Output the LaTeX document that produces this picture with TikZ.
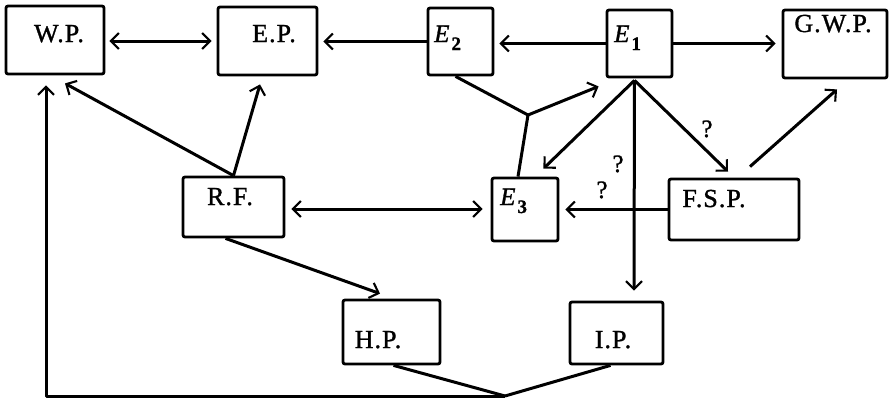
\documentclass[tikz,border=0pt]{standalone}
\usepackage{fontspec}
\setmainfont{Liberation Serif}
\newfontfamily\labelfont[FakeBold=1.2,LetterSpace=4]{Liberation Serif}
\usetikzlibrary{arrows.meta,calc}

\tikzset{
  box/.style={draw, line width=2.8pt, rounded corners=2pt, inner sep=0pt},
  lbl/.style={inner sep=0pt, font=\labelfont\fontsize{26}{26}\selectfont},
  qmark/.style={inner sep=0pt, font=\labelfont\fontsize{25}{25}\selectfont, anchor=base},
  conn/.style={line width=3pt, line join=round},
  >={Straight Barb[length=8pt,width=16pt,line width=2.1pt]}
}
% italic E with a lowered subscript digit
\newcommand{\Esub}[1]{{\fontsize{25}{25}\selectfont\itshape E}\kern2pt\raisebox{-8pt}{\fontsize{19}{19}\selectfont\bfseries #1}}

\begin{document}
\begin{tikzpicture}[x=1pt,y=-1pt]
\useasboundingbox (0,0) rectangle (889,399);

% boxes
\node[box, minimum width=98pt,  minimum height=68pt] (wp)  at (55,40)      {};
\node[box, minimum width=99pt,  minimum height=68pt] (ep)  at (267.5,41)   {};
\node[box, minimum width=65pt,  minimum height=67pt] (e2)  at (460.5,41.5) {};
\node[box, minimum width=65pt,  minimum height=67pt] (e1)  at (639.5,43.5) {};
\node[box, minimum width=104pt, minimum height=68pt] (gwp) at (835,44)     {};
\node[box, minimum width=101pt, minimum height=60pt] (rf)  at (233.5,207)  {};
\node[box, minimum width=66pt,  minimum height=63pt] (e3)  at (525,209.5)  {};
\node[box, minimum width=130pt, minimum height=61pt] (fsp) at (734,209.5)  {};
\node[box, minimum width=97pt,  minimum height=64pt] (hp)  at (391.5,332)  {};
\node[box, minimum width=93pt,  minimum height=62pt] (ip)  at (616.5,333)  {};

% box labels
\node[lbl, anchor=base]      (twp)  at (59,42)   {W.P.};
\node[lbl, anchor=base]      (tep)  at (274,42)  {E.P.};
\node[lbl, anchor=base west] (te2)  at (434,42)  {\Esub{2}};
\node[lbl, anchor=base west] (te1)  at (614,42)  {\Esub{1}};
\node[lbl, anchor=base]      (tgwp) at (833,32)  {G.W.P.};
\node[lbl, anchor=base]      (trf)  at (230,205) {R.F.};
\node[lbl, anchor=base west] (te3)  at (500,205) {\Esub{3}};
\node[lbl, anchor=base]      (tfsp) at (714,207) {F.S.P.};
\node[lbl, anchor=base]      (thp)  at (378,348) {H.P.};
\node[lbl, anchor=base]      (tip)  at (613,348) {I.P.};

% question marks
\node[qmark] (q1) at (707,137) {?};
\node[qmark] (q2) at (618,172) {?};
\node[qmark] (q3) at (602,198) {?};

% junction points
\coordinate (j) at (528,115);
\coordinate (p) at ($(e1.south)+(-5,2)$);
\coordinate (b) at (505,396);
\coordinate (c) at (46,396);

% top row
\draw[conn,<->] ($(wp.east)+(4,1)$) -- ($(ep.west)+(-5,0)$);
\draw[conn,->] (e2.west) -- ($(ep.east)+(5,0.5)$);
\draw[conn,->] (e1.west) -- ($(e2.east)+(5,2)$);
\draw[conn,->] (e1.east) -- ($(gwp.west)+(-6,-0.5)$);

% from R.F.
\draw[conn,->] (rf.north) -- ($(wp.south)+(10,8)$);
\draw[conn,->] (rf.north) -- ($(ep.south)+(-7.5,8)$);
\draw[conn,<->] ($(rf.east)+(6,2)$) -- ($(e3.west)+(-8,-0.5)$);
\draw[conn,->] ($(rf.south)+(-8,0)$) -- ($(hp.north)+(-11.5,-5)$);

% E2 and E3 joining towards E1
\draw[conn] ($(e2.south)+(-5,0)$) -- (j);
\draw[conn] ($(e3.north)+(-7,0)$) -- (j);
\draw[conn,->] (j) -- ($(e1.south west)+(-7,8)$);

% from E1
\draw[conn,->] (p) -- ($(e3.north east)+(-16,-8)$);
\draw[conn,->] (p) -- ($(ip.north)+(17.5,-10)$);
\draw[conn,->] (p) -- ($(fsp.north)+(-6,-6)$);

% from F.S.P.
\draw[conn,->] ($(fsp.north)+(16,-11)$) -- ($(gwp.south)+(2,10)$);
\draw[conn,->] (fsp.west) -- ($(e3.east)+(6,0)$);

% feedback to W.P.
\draw[conn] ($(hp.south)+(2,0)$) -- (b);
\draw[conn] ($(ip.south)+(-6,0)$) -- (b);
\draw[conn,->] (b) -- (c) -- ($(wp.south)+(-9,10)$);
\end{tikzpicture}
\end{document}
